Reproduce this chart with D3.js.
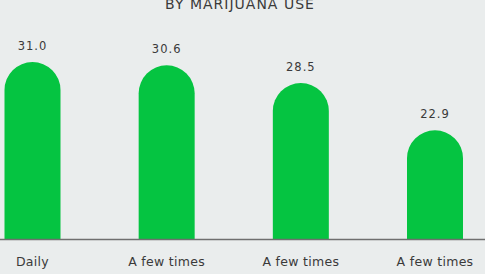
<!DOCTYPE html>
<html>
<head>
<meta charset="utf-8">
<script src="https://cdn.jsdelivr.net/npm/d3@7"></script>
<style>
  body { margin: 0; background: #eaeded; }
  svg { display: block; }
  text { font-family: "DejaVu Sans", "Open Sans", sans-serif; fill: #3a3a3a; }
</style>
</head>
<body>
<div class="content"></div>
<script>
var categories = ['Daily', 'A few times', 'A few times', 'A few times'];
var values = [31.0, 30.6, 28.5, 22.9];
var title = 'BY MARIJUANA USE';

var width = 485, height = 274;
var baseY = 239, barW = 56;

var svg = d3.select('.content').append('svg')
    .attr('width', width)
    .attr('height', height);

svg.append('rect').attr('width', width).attr('height', height).attr('fill', '#eaeded');

var x = d3.scalePoint().domain(d3.range(categories.length)).range([32.5, 435]);
var y = d3.scaleLinear().domain([10, 31]).range([baseY, 62]);

function barPath(cx, top) {
    var r = barW / 2;
    var l = cx - r, rr = cx + r;
    return 'M' + l + ',' + baseY +
        'L' + l + ',' + (top + r) +
        'A' + r + ',' + r + ' 0 0 1 ' + rr + ',' + (top + r) +
        'L' + rr + ',' + baseY + 'Z';
}

svg.selectAll('path.bar')
    .data(values)
    .enter().append('path')
    .attr('class', 'bar')
    .attr('d', function(d, i) { return barPath(x(i), y(d)); })
    .attr('fill', '#05c441');

svg.append('line')
    .attr('x1', 0).attr('x2', width)
    .attr('y1', baseY + 0.5).attr('y2', baseY + 0.5)
    .attr('stroke', '#6f6f6f').attr('stroke-width', 1.5);

svg.selectAll('text.val')
    .data(values)
    .enter().append('text')
    .attr('class', 'val')
    .attr('x', function(d, i) { return x(i); })
    .attr('y', function(d) { return y(d) - 12; })
    .attr('text-anchor', 'middle')
    .attr('font-size', 11.5)
    .attr('letter-spacing', 1)
    .text(function(d) { return d.toFixed(1); });

svg.selectAll('text.cat')
    .data(categories)
    .enter().append('text')
    .attr('class', 'cat')
    .attr('x', function(d, i) { return x(i); })
    .attr('y', 266)
    .attr('text-anchor', 'middle')
    .attr('font-size', 12.5)
    .attr('letter-spacing', 0.3)
    .text(function(d) { return d; });

// title sits partly above the top edge, like the source crop
svg.append('text')
    .attr('x', 240)
    .attr('y', 9)
    .attr('text-anchor', 'middle')
    .attr('font-size', 14)
    .attr('letter-spacing', 1)
    .text(title);
</script>
</body>
</html>
